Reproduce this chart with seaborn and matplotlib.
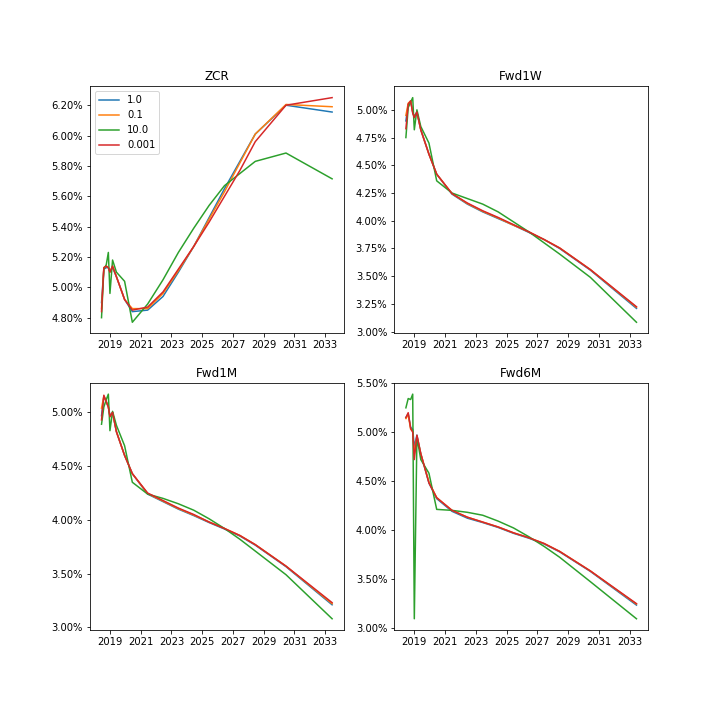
import matplotlib
matplotlib.use("Agg")
import matplotlib.pyplot as plt
from matplotlib.ticker import PercentFormatter
from matplotlib.dates import DateFormatter
import pandas as pd
import seaborn as sns

dates = ['2018-06-14', '2018-08-08', '2018-10-05', '2018-11-23', '2018-12-31',
         '2019-03-03', '2019-06-03', '2019-12-14', '2020-06-15', '2021-06-14',
         '2022-06-14', '2023-06-14', '2024-06-14', '2025-06-14', '2026-06-14',
         '2027-06-14', '2028-06-14', '2030-06-14', '2033-06-14']

tick_years = ['2019', '2021', '2023', '2025', '2027', '2029', '2031', '2033']

series_labels = ['1.0', '0.1', '10.0', '0.001']
panel_titles = ['ZCR', 'Fwd1W', 'Fwd1M', 'Fwd6M']

# values in percent
zcr_1 = [4.90, 5.12, 5.13, 5.13, 5.11, 5.13, 5.07, 4.92, 4.84, 4.85, 4.94, 5.10, 5.27, 5.46, 5.65, 5.83, 6.01, 6.20, 6.155]
zcr_01 = [4.86, 5.13, 5.14, 5.13, 5.10, 5.14, 5.07, 4.92, 4.86, 4.86, 4.96, 5.11, 5.27, 5.45, 5.63, 5.82, 6.01, 6.205, 6.19]
zcr_10 = [4.80, 5.12, 5.15, 5.23, 4.96, 5.18, 5.10, 5.04, 4.77, 4.89, 5.05, 5.23, 5.39, 5.54, 5.67, 5.75, 5.83, 5.885, 5.715]
zcr_0001 = [4.84, 5.13, 5.14, 5.13, 5.10, 5.14, 5.07, 4.92, 4.85, 4.87, 4.97, 5.12, 5.27, 5.43, 5.60, 5.77, 5.96, 6.20, 6.25]

fwd1w_1 = [4.90, 5.05, 5.08, 4.98, 4.94, 4.98, 4.82, 4.60, 4.42, 4.24, 4.15, 4.08, 4.02, 3.96, 3.895, 3.83, 3.75, 3.555, 3.21]
fwd1w_01 = [4.95, 5.06, 5.08, 4.98, 4.93, 4.98, 4.82, 4.60, 4.42, 4.245, 4.155, 4.085, 4.025, 3.96, 3.90, 3.83, 3.755, 3.56, 3.22]
fwd1w_10 = [4.75, 5.02, 5.07, 5.11, 4.82, 5.00, 4.85, 4.70, 4.36, 4.25, 4.20, 4.15, 4.08, 3.99, 3.90, 3.80, 3.70, 3.49, 3.085]
fwd1w_0001 = [4.83, 5.05, 5.08, 4.97, 4.93, 4.98, 4.82, 4.60, 4.42, 4.245, 4.16, 4.09, 4.03, 3.965, 3.90, 3.83, 3.755, 3.56, 3.225]

fwd1m_1 = [4.97, 5.15, 5.10, 5.05, 4.97, 5.00, 4.82, 4.60, 4.43, 4.24, 4.17, 4.10, 4.04, 3.975, 3.915, 3.85, 3.765, 3.565, 3.21]
fwd1m_01 = [5.04, 5.15, 5.10, 5.05, 4.96, 5.00, 4.82, 4.60, 4.43, 4.245, 4.175, 4.105, 4.045, 3.98, 3.92, 3.855, 3.77, 3.57, 3.22]
fwd1m_10 = [4.89, 5.05, 5.12, 5.17, 4.83, 5.01, 4.88, 4.69, 4.35, 4.24, 4.20, 4.15, 4.09, 4.01, 3.92, 3.82, 3.71, 3.49, 3.08]
fwd1m_0001 = [4.93, 5.16, 5.10, 5.05, 4.96, 5.00, 4.82, 4.60, 4.43, 4.25, 4.18, 4.11, 4.05, 3.98, 3.92, 3.855, 3.77, 3.57, 3.23]

fwd6m_1 = [5.15, 5.19, 5.05, 5.03, 4.85, 4.97, 4.78, 4.48, 4.32, 4.19, 4.12, 4.075, 4.025, 3.965, 3.915, 3.855, 3.775, 3.575, 3.23]
fwd6m_01 = [5.14, 5.18, 5.03, 5.01, 4.78, 4.96, 4.78, 4.49, 4.33, 4.20, 4.13, 4.08, 4.03, 3.97, 3.92, 3.86, 3.78, 3.58, 3.24]
fwd6m_10 = [5.25, 5.345, 5.335, 5.39, 3.09, 4.95, 4.72, 4.58, 4.21, 4.20, 4.18, 4.15, 4.09, 4.02, 3.93, 3.83, 3.72, 3.47, 3.09]
fwd6m_0001 = [5.15, 5.20, 5.04, 5.00, 4.72, 4.97, 4.78, 4.48, 4.33, 4.20, 4.13, 4.08, 4.03, 3.97, 3.92, 3.86, 3.78, 3.58, 3.245]

panels = [
    [zcr_1, zcr_01, zcr_10, zcr_0001],
    [fwd1w_1, fwd1w_01, fwd1w_10, fwd1w_0001],
    [fwd1m_1, fwd1m_01, fwd1m_10, fwd1m_0001],
    [fwd6m_1, fwd6m_01, fwd6m_10, fwd6m_0001],
]

colors = ['#1f77b4', '#ff7f0e', '#2ca02c', '#d62728']

x = pd.to_datetime(dates)
xticks = pd.to_datetime([y + '-01-01' for y in tick_years])

fig, axes = plt.subplots(2, 2, figsize=(10, 10), dpi=72)
fig.subplots_adjust(left=0.125, right=0.9, top=0.88, bottom=0.125, wspace=0.2, hspace=0.2)
for i, (ax, title, series) in enumerate(zip(axes.flat, panel_titles, panels)):
    for lab, vals, col in zip(series_labels, series, colors):
        if i == 0:
            sns.lineplot(x=x, y=vals, ax=ax, color=col, label=lab)
        else:
            sns.lineplot(x=x, y=vals, ax=ax, color=col, legend=False)
    ax.set_title(title)
    ax.set_xlabel('')
    ax.set_ylabel('')
    ax.set_xticks(xticks)
    ax.xaxis.set_major_formatter(DateFormatter('%Y'))
    ax.yaxis.set_major_formatter(PercentFormatter(xmax=100, decimals=2))
    if i == 0:
        ax.legend(loc='upper left')

fig.savefig('out.png', dpi=72)
